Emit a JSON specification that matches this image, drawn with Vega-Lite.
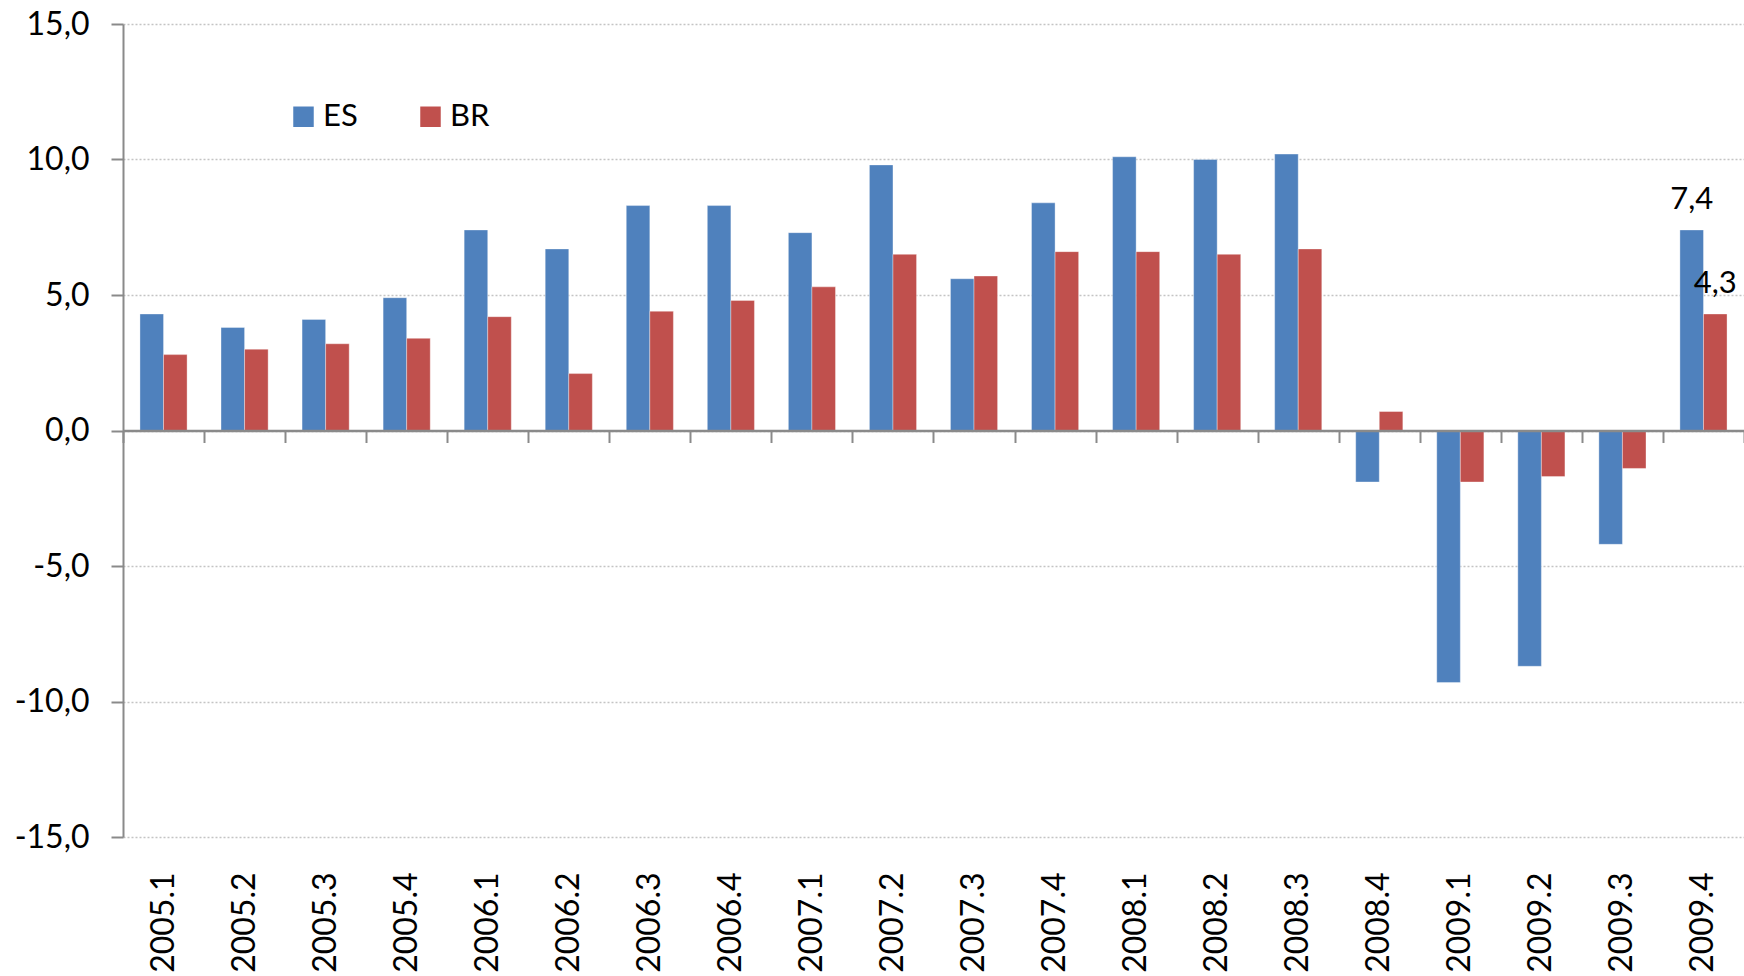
{
  "$schema": "https://vega.github.io/schema/vega-lite/v6.json",
  "autosize": {"type": "none"},
  "padding": {"left": 123, "top": 24, "right": 0, "bottom": 139},
  "width": 1621,
  "height": 813,
  "background": "white",
  "config": {
    "locale": {"number": {"decimal": ",", "thousands": ".", "grouping": [3], "currency": ["", ""], "minus": "-"}},
    "view": {"stroke": null}
  },
  "data": {"values": [
    {"q": "2005.1", "s": "ES", "v": 4.3}, {"q": "2005.1", "s": "BR", "v": 2.8},
    {"q": "2005.2", "s": "ES", "v": 3.8}, {"q": "2005.2", "s": "BR", "v": 3.0},
    {"q": "2005.3", "s": "ES", "v": 4.1}, {"q": "2005.3", "s": "BR", "v": 3.2},
    {"q": "2005.4", "s": "ES", "v": 4.9}, {"q": "2005.4", "s": "BR", "v": 3.4},
    {"q": "2006.1", "s": "ES", "v": 7.4}, {"q": "2006.1", "s": "BR", "v": 4.2},
    {"q": "2006.2", "s": "ES", "v": 6.7}, {"q": "2006.2", "s": "BR", "v": 2.1},
    {"q": "2006.3", "s": "ES", "v": 8.3}, {"q": "2006.3", "s": "BR", "v": 4.4},
    {"q": "2006.4", "s": "ES", "v": 8.3}, {"q": "2006.4", "s": "BR", "v": 4.8},
    {"q": "2007.1", "s": "ES", "v": 7.3}, {"q": "2007.1", "s": "BR", "v": 5.3},
    {"q": "2007.2", "s": "ES", "v": 9.8}, {"q": "2007.2", "s": "BR", "v": 6.5},
    {"q": "2007.3", "s": "ES", "v": 5.6}, {"q": "2007.3", "s": "BR", "v": 5.7},
    {"q": "2007.4", "s": "ES", "v": 8.4}, {"q": "2007.4", "s": "BR", "v": 6.6},
    {"q": "2008.1", "s": "ES", "v": 10.1}, {"q": "2008.1", "s": "BR", "v": 6.6},
    {"q": "2008.2", "s": "ES", "v": 10.0}, {"q": "2008.2", "s": "BR", "v": 6.5},
    {"q": "2008.3", "s": "ES", "v": 10.2}, {"q": "2008.3", "s": "BR", "v": 6.7},
    {"q": "2008.4", "s": "ES", "v": -1.9}, {"q": "2008.4", "s": "BR", "v": 0.7},
    {"q": "2009.1", "s": "ES", "v": -9.3}, {"q": "2009.1", "s": "BR", "v": -1.9},
    {"q": "2009.2", "s": "ES", "v": -8.7}, {"q": "2009.2", "s": "BR", "v": -1.7},
    {"q": "2009.3", "s": "ES", "v": -4.2}, {"q": "2009.3", "s": "BR", "v": -1.4},
    {"q": "2009.4", "s": "ES", "v": 7.4}, {"q": "2009.4", "s": "BR", "v": 4.3}
  ]},
  "resolve": {"axis": {"x": "independent"}},
  "layer": [
    {
      "mark": {"type": "bar", "stroke": "white", "strokeOpacity": 0.35, "strokeWidth": 1},
      "encoding": {
        "x": {
          "field": "q", "type": "nominal", "sort": null,
          "scale": {"paddingInner": 0, "paddingOuter": 0},
          "axis": {
            "orient": "bottom", "title": null, "domain": false, "ticks": false,
            "labelAngle": -90, "labelAlign": "right", "labelBaseline": "middle",
            "labelPadding": 35, "labelFont": "Lato", "labelFontSize": 32,
            "labelColor": "#000000"
          }
        },
        "xOffset": {
          "field": "s", "type": "nominal", "sort": ["ES", "BR"],
          "scale": {"paddingInner": 0, "paddingOuter": 0.72}
        },
        "y": {
          "field": "v", "type": "quantitative", "title": null,
          "scale": {"domain": [-15, 15], "nice": false},
          "axis": {
            "values": [-15, -10, -5, 0, 5, 10, 15], "format": ".1f",
            "domainColor": "#8a8a8a", "domainWidth": 2,
            "tickColor": "#8a8a8a", "tickWidth": 2, "tickSize": 12,
            "labelFont": "Lato", "labelFontSize": 32, "labelColor": "#000000", "labelPadding": 22,
            "grid": true, "gridColor": "#c4c4c4", "gridDash": [2, 2], "gridWidth": 1.5
          }
        },
        "color": {
          "field": "s", "type": "nominal", "sort": ["ES", "BR"],
          "scale": {"domain": ["ES", "BR"], "range": ["#4F81BD", "#C0504D"]},
          "legend": {
            "title": null, "orient": "none", "direction": "horizontal", "columns": 2,
            "legendX": 165, "legendY": 77, "padding": 0,
            "symbolType": "square", "symbolSize": 420, "symbolStrokeWidth": 0,
            "labelFont": "Lato", "labelFontSize": 31, "labelColor": "#000000",
            "labelOffset": 4, "columnPadding": 57
          }
        }
      }
    },
    {
      "transform": [{"filter": "datum.q == '2009.4'"}],
      "mark": {"type": "text", "baseline": "bottom", "dy": -14, "font": "Lato", "fontSize": 31, "color": "#000000"},
      "encoding": {
        "x": {"field": "q", "type": "nominal", "sort": null, "axis": null},
        "xOffset": {"field": "s", "type": "nominal", "sort": ["ES", "BR"]},
        "y": {"field": "v", "type": "quantitative", "title": null},
        "text": {"field": "v", "type": "quantitative", "format": ".1f"}
      }
    },
    {
      "mark": {"type": "point", "opacity": 0},
      "encoding": {
        "x": {
          "field": "q", "type": "nominal", "sort": null,
          "axis": {
            "orient": "bottom", "title": null, "labels": false, "offset": -406.5,
            "domain": true, "domainColor": "#8a8a8a", "domainWidth": 2.5,
            "ticks": true, "tickBand": "extent", "tickColor": "#8a8a8a", "tickWidth": 2, "tickSize": 12,
            "zindex": 2
          }
        },
        "y": {"datum": 0, "type": "quantitative", "title": null}
      }
    }
  ]
}
